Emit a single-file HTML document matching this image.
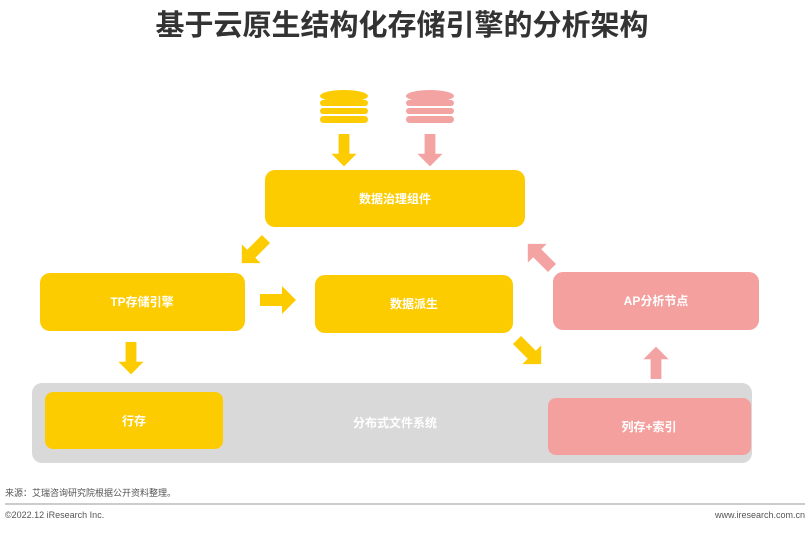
<!DOCTYPE html>
<html><head><meta charset="utf-8"><style>
body{margin:0;background:#fff;width:810px;height:528px;overflow:hidden;font-family:"Liberation Sans","Noto Sans CJK SC",sans-serif}
</style></head><body>
<svg width="810" height="528" viewBox="0 0 810 528" xmlns="http://www.w3.org/2000/svg" font-family="Liberation Sans, Noto Sans CJK SC, sans-serif">
<defs>
<polygon id="ar" points="0,-6 22,-6 22,-14 36,0 22,14 22,6 0,6"/>
</defs>
<text x="402" y="35" text-anchor="middle" font-size="29" font-weight="bold" fill="#333">基于云原生结构化存储引擎的分析架构</text>

<!-- databases -->
<g fill="#FDCC00">
<ellipse cx="344" cy="96" rx="24" ry="6"/>
<rect x="320" y="100" width="48" height="6" rx="3"/>
<rect x="320" y="108" width="48" height="6" rx="3"/>
<rect x="320" y="116" width="48" height="7" rx="3.5"/>
</g>
<g fill="#F4A3A3">
<ellipse cx="430" cy="96" rx="24" ry="6"/>
<rect x="406" y="100" width="48" height="6" rx="3"/>
<rect x="406" y="108" width="48" height="6" rx="3"/>
<rect x="406" y="116" width="48" height="7" rx="3.5"/>
</g>

<!-- gray base -->
<rect x="32" y="383" width="720" height="80" rx="10" fill="#D9D9D9"/>
<text x="395" y="427" text-anchor="middle" font-size="12" font-weight="bold" fill="#fff">分布式文件系统</text>

<!-- boxes -->
<rect x="265" y="170" width="260" height="57" rx="10" fill="#FDCC00"/>
<text x="395" y="203" text-anchor="middle" font-size="12" font-weight="bold" fill="#fff">数据治理组件</text>
<rect x="40" y="273" width="205" height="58" rx="10" fill="#FDCC00"/>
<text x="142" y="306" text-anchor="middle" font-size="12" font-weight="bold" fill="#fff">TP存储引擎</text>
<rect x="315" y="275" width="198" height="58" rx="10" fill="#FDCC00"/>
<text x="414" y="308" text-anchor="middle" font-size="12" font-weight="bold" fill="#fff">数据派生</text>
<rect x="553" y="272" width="206" height="58" rx="10" fill="#F4A09E"/>
<text x="656" y="305" text-anchor="middle" font-size="12" font-weight="bold" fill="#fff">AP分析节点</text>
<rect x="45" y="392" width="178" height="57" rx="8" fill="#FDCC00"/>
<text x="134" y="425" text-anchor="middle" font-size="12" font-weight="bold" fill="#fff">行存</text>
<rect x="548" y="398" width="203" height="57" rx="8" fill="#F4A09E"/>
<text x="649" y="431" text-anchor="middle" font-size="12" font-weight="bold" fill="#fff">列存+索引</text>

<!-- arrows -->
<g fill="#FDCC00">
<use href="#ar" transform="translate(344,134) rotate(90) scale(0.9)"/>
<use href="#ar" transform="translate(266,239) rotate(135) scale(0.95)"/>
<use href="#ar" transform="translate(260,300) scale(1)"/>
<use href="#ar" transform="translate(131,342) rotate(90) scale(0.9)"/>
<use href="#ar" transform="translate(517,340) rotate(45) scale(0.95)"/>
</g>
<g fill="#F4A3A3">
<use href="#ar" transform="translate(430,134) rotate(90) scale(0.9)"/>
<use href="#ar" transform="translate(656,379) rotate(-90) scale(0.9)"/>
<use href="#ar" transform="translate(552,268) rotate(-135) scale(0.95)"/>
</g>

<text x="5" y="496" font-size="9" fill="#555">来源：艾瑞咨询研究院根据公开资料整理。</text>
<line x1="5" y1="504" x2="805" y2="504" stroke="#999" stroke-width="1"/>
<text x="5" y="518" font-size="9" fill="#555">©2022.12 iResearch Inc.</text>
<text x="805" y="518" font-size="9" fill="#555" text-anchor="end">www.iresearch.com.cn</text>
</svg>
</body></html>
